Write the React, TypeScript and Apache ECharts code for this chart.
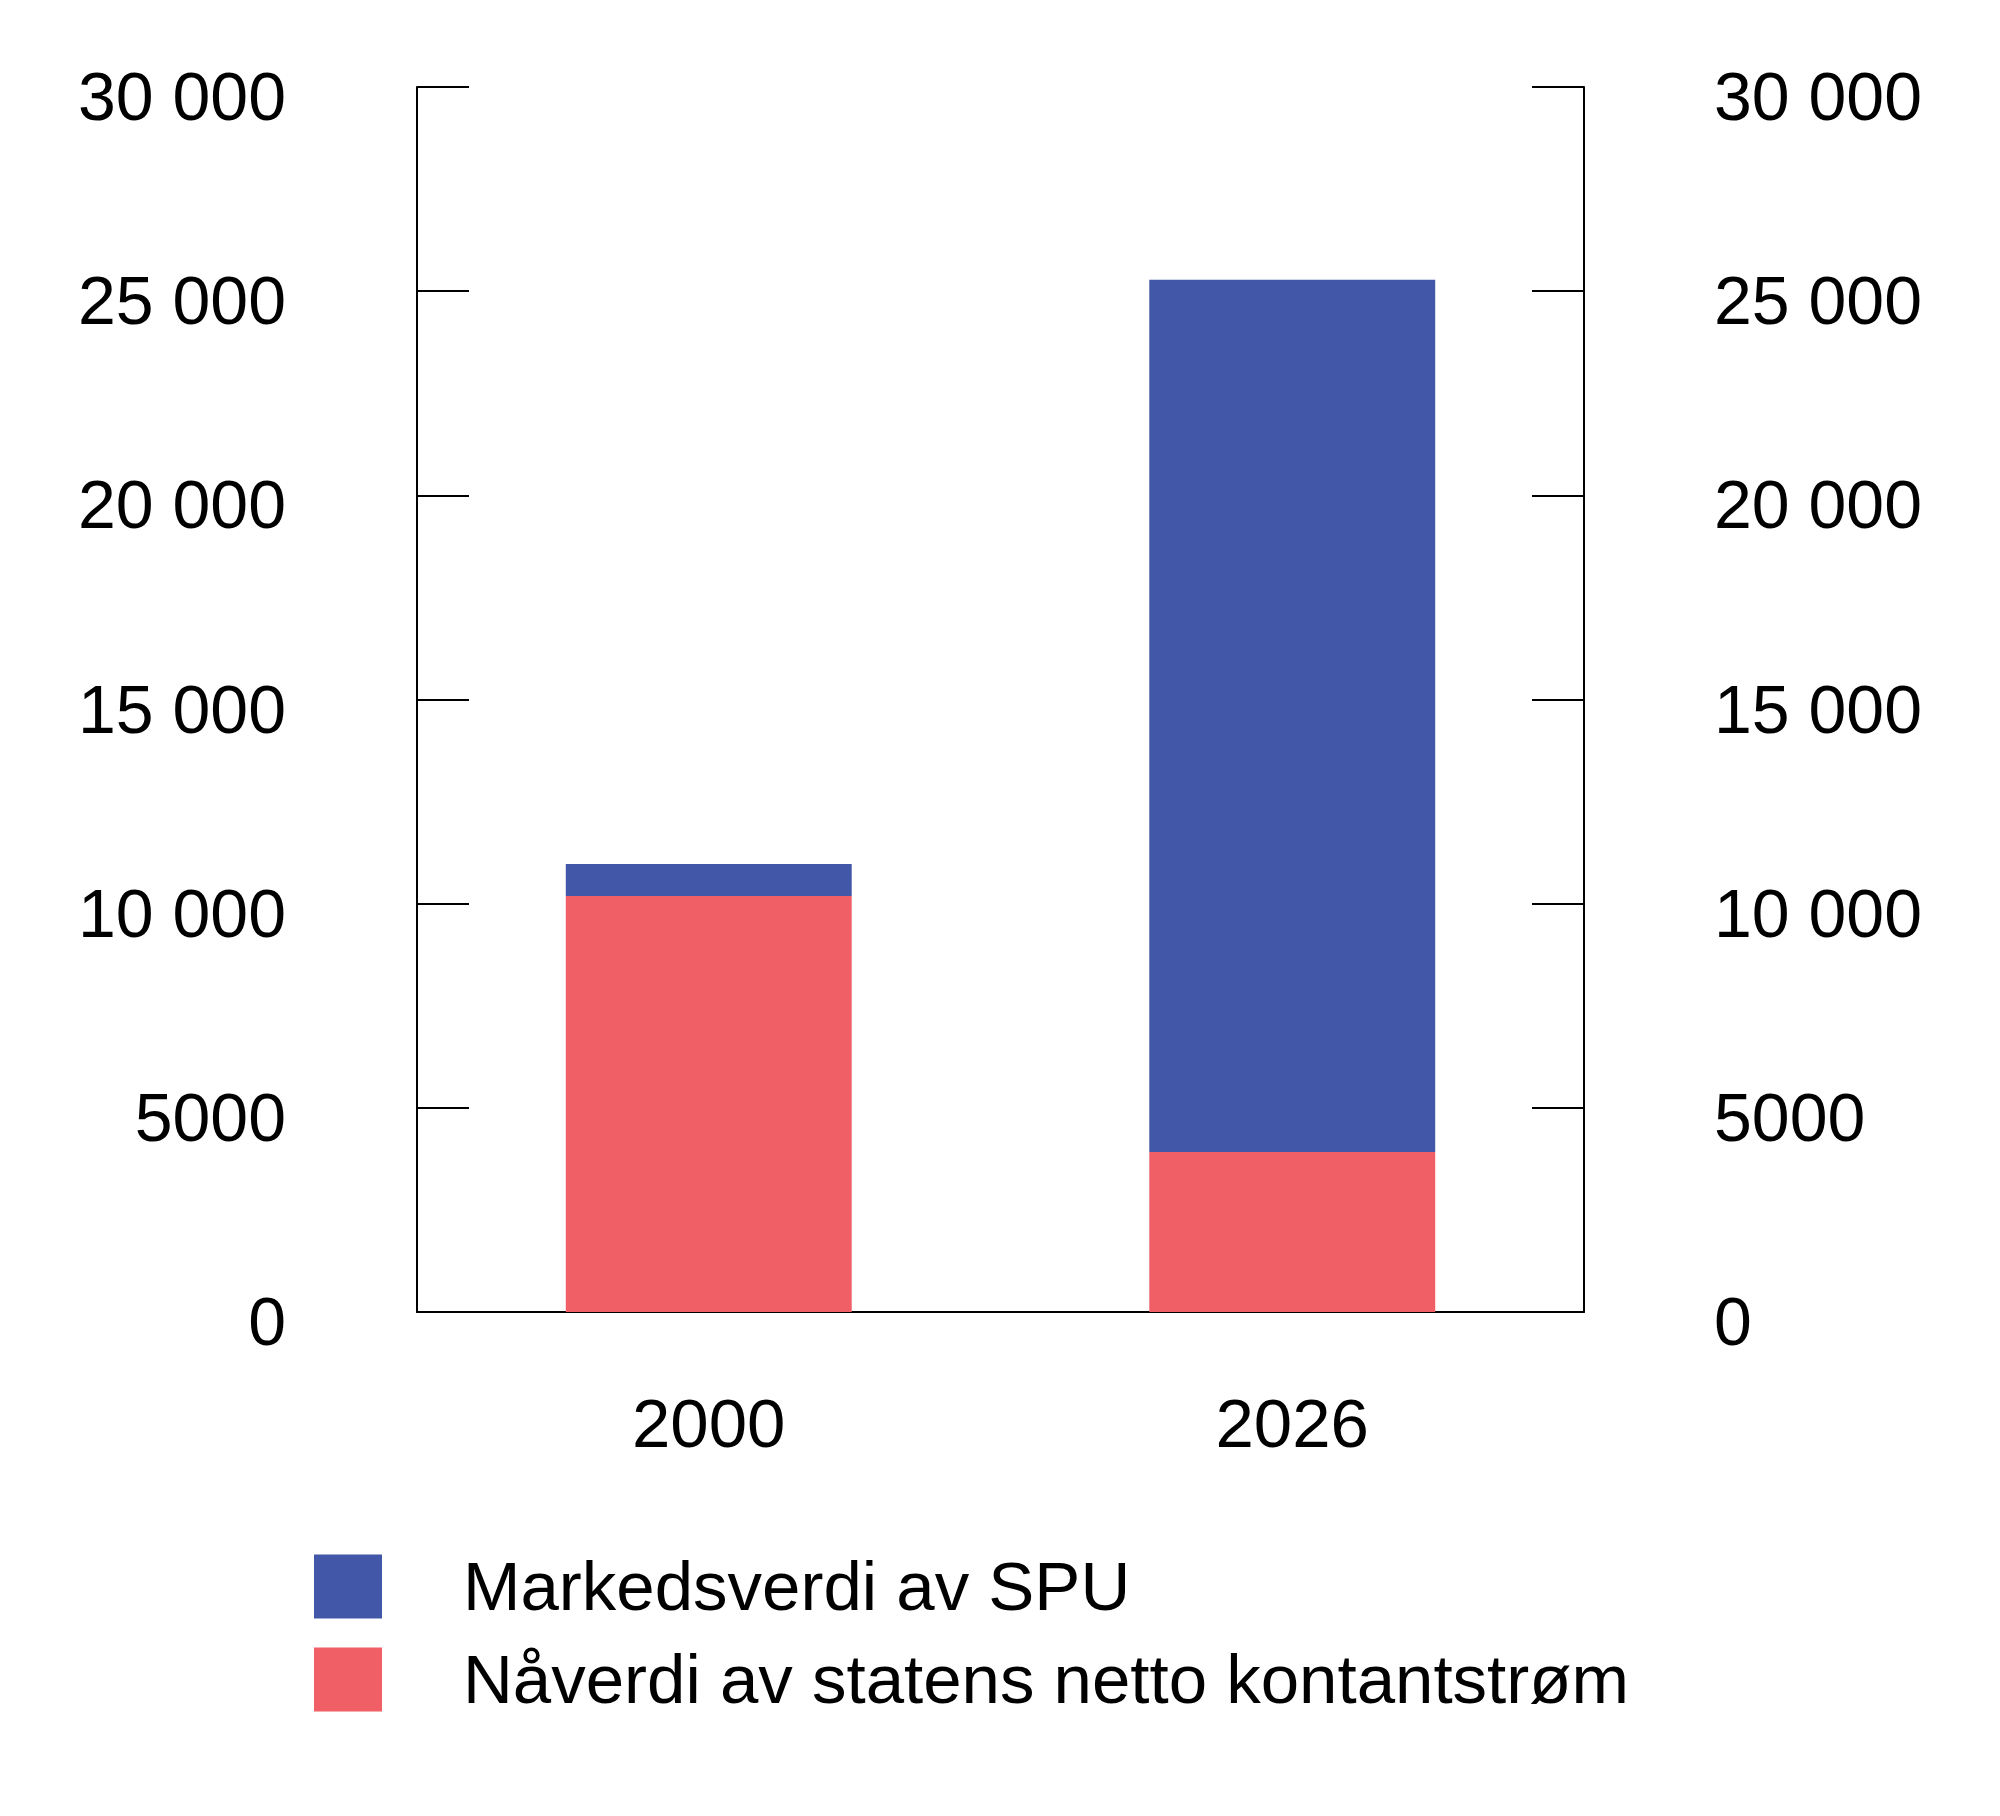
import React, { useEffect, useRef } from "react";
import * as echarts from "echarts";

const categories = ["2000", "2026"];
const navValues = [10190, 3920];
const spuValues = [780, 21360];
const yTicks = [0, 5000, 10000, 15000, 20000, 25000, 30000];
const seriesNames = ["Markedsverdi av SPU", "Nåverdi av statens netto kontantstrøm"];

const BLUE = "#4257A7";
const RED = "#F05F65";
const FONT = "Liberation Sans";

function fmt(v: number): string {
  if (v >= 10000) {
    const s = String(v);
    return s.slice(0, s.length - 3) + " " + s.slice(s.length - 3);
  }
  return String(v);
}

export default function App() {
  const ref = useRef<HTMLDivElement>(null);
  useEffect(() => {
    if (!ref.current) return;
    const chart = echarts.init(ref.current, null, { renderer: "svg" });
    const yAxisCommon = {
      type: "value" as const,
      min: yTicks[0],
      max: yTicks[yTicks.length - 1],
      interval: 5000,
      splitLine: { show: false },
      axisLine: { show: true, lineStyle: { color: "#000", width: 2 } },
      axisTick: { show: true, inside: true, length: 52, lineStyle: { color: "#000", width: 2 } },
    };
    chart.setOption({
      animation: false,
      backgroundColor: "#fff",
      grid: { left: 417, right: 416, top: 87, bottom: 504, containLabel: false },
      legend: {
        orient: "vertical",
        left: 314,
        top: 1552,
        padding: 0,
        itemWidth: 68,
        itemHeight: 64,
        itemGap: 24,
        data: seriesNames,
        icon: "rect",
        textStyle: { fontFamily: FONT, fontSize: 69, color: "#000", padding: [0, 0, 0, 76] },
      },
      xAxis: {
        type: "category",
        data: categories,
        axisLine: { show: true, lineStyle: { color: "#000", width: 2 } },
        axisTick: { show: false },
        axisLabel: { fontFamily: FONT, fontSize: 69, color: "#000", margin: 77 },
      },
      yAxis: [
        {
          ...yAxisCommon,
          position: "left",
          axisLabel: {
            fontFamily: FONT,
            fontSize: 68,
            color: "#000",
            margin: 131,
            align: "right",
            verticalAlign: "top",
            lineHeight: 18,
            formatter: (v: number) => fmt(v),
          },
        },
        {
          ...yAxisCommon,
          position: "right",
          axisLabel: {
            fontFamily: FONT,
            fontSize: 68,
            color: "#000",
            margin: 130,
            align: "left",
            verticalAlign: "top",
            lineHeight: 18,
            formatter: (v: number) => fmt(v),
          },
        },
      ],
      series: [
        {
          name: seriesNames[1],
          type: "bar",
          stack: "total",
          data: navValues,
          barWidth: "49%",
          itemStyle: { color: RED },
        },
        {
          name: seriesNames[0],
          type: "bar",
          stack: "total",
          data: spuValues,
          barWidth: "49%",
          itemStyle: { color: BLUE },
        },
      ],
    });
    return () => chart.dispose();
  }, []);
  return (
    <div
      ref={ref}
      style={{ position: "fixed", left: 0, top: 0, width: 2000, height: 1816, background: "#fff" }}
    />
  );
}
